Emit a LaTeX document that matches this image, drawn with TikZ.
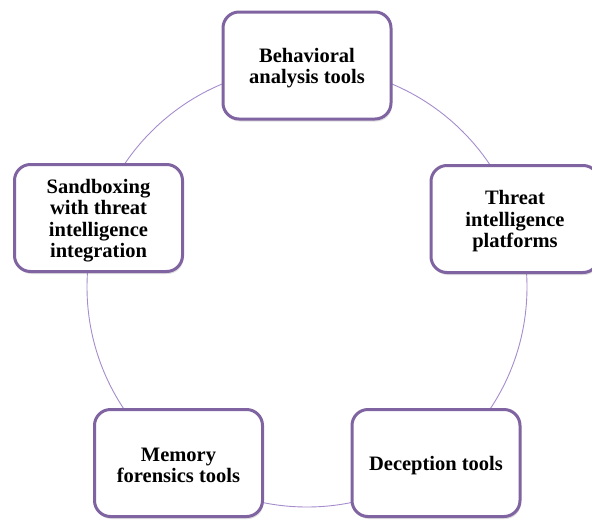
\documentclass[tikz,border=0pt]{standalone}
\usepackage{fontspec}
\setmainfont{Liberation Serif}
\usetikzlibrary{shadows}
\definecolor{boxpurple}{RGB}{128,100,162}
\definecolor{ringpurple}{RGB}{165,140,205}
\tikzset{
  cyclebox/.style={draw=boxpurple, line width=3pt, fill=white, rounded corners=16pt,
    minimum width=168pt, minimum height=107pt, inner sep=0pt,
    drop shadow={opacity=0.25, shadow xshift=1pt, shadow yshift=-2.5pt}},
  boxtext/.style={align=center, inner sep=0pt, yshift=-2.5pt,
    font=\fontsize{20.5}{21.5}\selectfont\bfseries},
  ring/.style={draw=ringpurple, line width=0.9pt}
}
\begin{document}
\begin{tikzpicture}[x=1pt,y=-1pt]
\useasboundingbox (0,0) rectangle (592,520);
\coordinate (c) at (307,287);
\draw[ring] (c) circle[radius=220];
\node[cyclebox] (behav) at (307,65.5) {};
\node[boxtext] (behavtext) at (behav.center) {Behavioral\\analysis tools};
\node[cyclebox] (threat) at (515,219) {};
\node[boxtext] (threattext) at (threat.center) {Threat\\intelligence\\platforms};
\node[cyclebox] (decep) at (436,463) {};
\node[boxtext] (deceptext) at (decep.center) {Deception tools};
\node[cyclebox] (memory) at (178.5,463) {};
\node[boxtext] (memorytext) at (memory.center) {Memory\\forensics tools};
\node[cyclebox] (sandbox) at (98.5,218) {};
\node[boxtext] (sandboxtext) at (sandbox.center) {Sandboxing\\with threat\\intelligence\\integration};
\end{tikzpicture}
\end{document}
